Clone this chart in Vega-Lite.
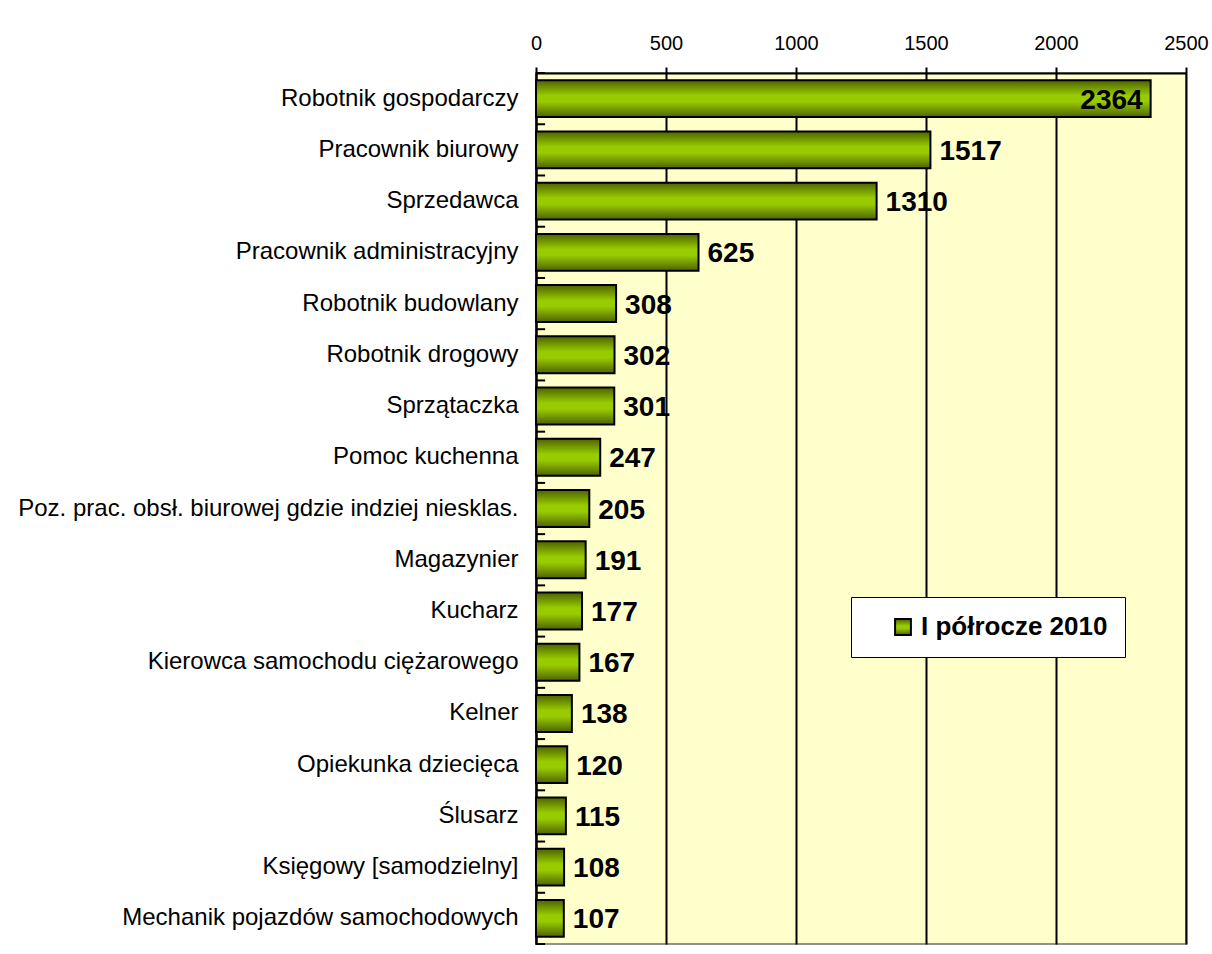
{
  "$schema": "https://vega.github.io/schema/vega-lite/v6.json",
  "width": 650,
  "height": 871,
  "autosize": {"type": "none"},
  "padding": {"left": 536, "top": 73, "right": 26, "bottom": 10},
  "background": "white",
  "config": {
    "font": "Liberation Sans",
    "view": {"fill": "#FFFFCC", "stroke": "#909090", "strokeWidth": 2}
  },
  "data": {
    "values": [
      {"job": "Robotnik gospodarczy", "count": 2364, "series": "I półrocze 2010"},
      {"job": "Pracownik biurowy", "count": 1517, "series": "I półrocze 2010"},
      {"job": "Sprzedawca", "count": 1310, "series": "I półrocze 2010"},
      {"job": "Pracownik administracyjny", "count": 625, "series": "I półrocze 2010"},
      {"job": "Robotnik budowlany", "count": 308, "series": "I półrocze 2010"},
      {"job": "Robotnik drogowy", "count": 302, "series": "I półrocze 2010"},
      {"job": "Sprzątaczka", "count": 301, "series": "I półrocze 2010"},
      {"job": "Pomoc kuchenna", "count": 247, "series": "I półrocze 2010"},
      {"job": "Poz. prac. obsł. biurowej gdzie indziej niesklas.", "count": 205, "series": "I półrocze 2010"},
      {"job": "Magazynier", "count": 191, "series": "I półrocze 2010"},
      {"job": "Kucharz", "count": 177, "series": "I półrocze 2010"},
      {"job": "Kierowca samochodu ciężarowego", "count": 167, "series": "I półrocze 2010"},
      {"job": "Kelner", "count": 138, "series": "I półrocze 2010"},
      {"job": "Opiekunka dziecięca", "count": 120, "series": "I półrocze 2010"},
      {"job": "Ślusarz", "count": 115, "series": "I półrocze 2010"},
      {"job": "Księgowy [samodzielny]", "count": 108, "series": "I półrocze 2010"},
      {"job": "Mechanik pojazdów samochodowych", "count": 107, "series": "I półrocze 2010"}
    ]
  },
  "encoding": {
    "y": {
      "field": "job", "type": "nominal", "sort": null, "title": null,
      "scale": {"paddingInner": 0.28, "paddingOuter": 0.14},
      "axis": {
        "domainColor": "black", "domainWidth": 2, "ticks": false,
        "labelFontSize": 24, "labelColor": "black", "labelPadding": 18, "labelLimit": 600
      }
    },
    "x": {
      "field": "count", "type": "quantitative", "title": null,
      "scale": {"domain": [0, 2500], "nice": false},
      "axis": {
        "orient": "top", "values": [0, 500, 1000, 1500, 2000, 2500], "format": "d",
        "domainColor": "black", "domainWidth": 2,
        "tickColor": "black", "tickWidth": 2, "tickSize": 6,
        "grid": true, "gridColor": "black", "gridWidth": 2, "gridOpacity": 1,
        "labelFontSize": 20, "labelColor": "black", "labelPadding": 14,
        "labelFlush": false
      }
    }
  },
  "layer": [
    {
      "mark": {
        "type": "bar",
        "stroke": "black",
        "strokeWidth": 2,
        "fill": {
          "gradient": "linear", "x1": 0, "y1": 0, "x2": 0, "y2": 1,
          "stops": [
            {"offset": 0, "color": "#4E6300"},
            {"offset": 0.42, "color": "#99CC00"},
            {"offset": 0.58, "color": "#99CC00"},
            {"offset": 1, "color": "#4E6300"}
          ]
        }
      },
      "encoding": {
        "stroke": {
          "field": "series", "type": "nominal",
          "scale": {"range": ["black"]},
          "legend": {
            "title": null, "orient": "none", "legendX": 315, "legendY": 524,
            "fillColor": "white", "strokeColor": "black", "padding": 17,
            "symbolOffset": 22,
            "symbolType": "square", "symbolSize": 250, "symbolStrokeWidth": 2,
            "labelFontSize": 26, "labelFontWeight": "bold", "labelColor": "black",
            "labelOffset": 5, "labelLimit": 500,
            "encode": {
              "symbols": {"update": {"fill": {"value": {
                "gradient": "linear", "x1": 0, "y1": 0, "x2": 0, "y2": 1,
                "stops": [
                  {"offset": 0, "color": "#4E6300"},
                  {"offset": 0.5, "color": "#99CC00"},
                  {"offset": 1, "color": "#4E6300"}
                ]}}, "stroke": {"value": "black"}, "opacity": {"value": 1}}},
              "legend": {"update": {"strokeWidth": {"value": 2}}}
            }
          }
        }
      }
    },
    {
      "mark": {"type": "rule", "color": "black", "strokeWidth": 2},
      "encoding": {
        "y": {"field": "job", "type": "nominal", "sort": null, "bandPosition": -0.194},
        "x": {"datum": 0},
        "x2": {"datum": 35}
      }
    },
    {
      "transform": [{"filter": "datum.job == 'Mechanik pojazdów samochodowych'"}],
      "mark": {"type": "rule", "color": "black", "strokeWidth": 2},
      "encoding": {
        "y": {"field": "job", "type": "nominal", "sort": null, "bandPosition": 1.194},
        "x": {"datum": 0},
        "x2": {"datum": 35}
      }
    },
    {
      "transform": [{"filter": "datum.count < 2000"}],
      "mark": {"type": "text", "align": "left", "baseline": "middle", "dx": 9, "dy": 2, "fontSize": 28, "fontWeight": "bold", "color": "black"},
      "encoding": {"text": {"field": "count", "type": "quantitative"}}
    },
    {
      "transform": [{"filter": "datum.count >= 2000"}],
      "mark": {"type": "text", "align": "right", "baseline": "middle", "dx": -8, "dy": 2, "fontSize": 28, "fontWeight": "bold", "color": "black"},
      "encoding": {"text": {"field": "count", "type": "quantitative"}}
    }
  ]
}
